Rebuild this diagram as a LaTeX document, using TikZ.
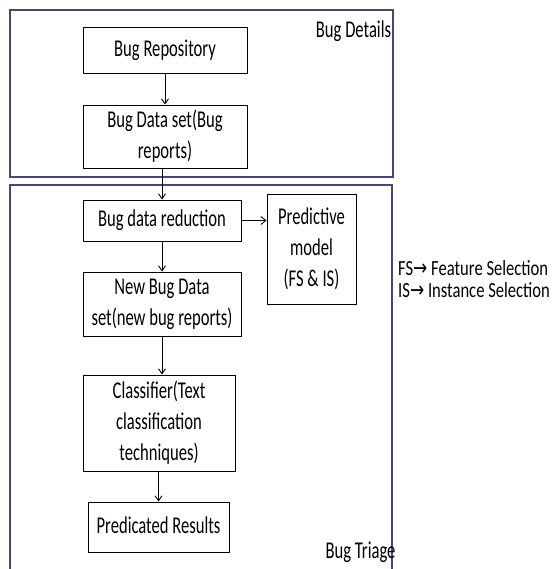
\documentclass[tikz,border=0pt]{standalone}
\usepackage{fontspec}
\usepackage{graphicx}
\setmainfont{Carlito}
\newfontfamily\arrfont{DejaVu Sans}
\usetikzlibrary{arrows.meta}
\definecolor{grpcol}{HTML}{4E4470}
\newcommand{\stx}[1]{\scalebox{1}[1.45]{\begin{tabular}{@{}c@{}}#1\end{tabular}}}
\newcommand{\lgx}[1]{\scalebox{1}[1.3]{#1}}
\tikzset{
  box/.style={draw=black, line width=0.9pt, inner sep=0pt, align=center,
    font=\fontsize{16.6}{21.4}\selectfont},
  grp/.style={draw=grpcol, line width=1.1pt},
  lbl/.style={inner sep=0pt, font=\fontsize{16.6}{21.4}\selectfont},
  flow/.style={line width=0.9pt, -{Straight Barb[length=5pt,width=7pt]}},
  thickflow/.style={line width=1.8pt, -{Straight Barb[length=5pt,width=8pt,line width=0.9pt]}}
}
\begin{document}
\begin{tikzpicture}[x=1pt,y=-1pt]
\useasboundingbox (0,0) rectangle (557,569);
% group boxes
\draw[grp] (10,10) rectangle (393,177);
\draw[grp] (10,580) -- (10,185) -- (392,185) -- (392,580);
% nodes
\node[box, minimum width=164pt, minimum height=46pt] (repo) at (165,50) {\stx{Bug Repository}};
\node[box, minimum width=164pt, minimum height=63pt] (dset) at (165,136.5) {\stx{Bug Data set(Bug\\reports)}};
\node[box, minimum width=158pt, minimum height=41pt] (red) at (162,220.5) {\stx{Bug data reduction}};
\node[box, minimum width=89pt, minimum height=110pt] (pred) at (311.5,249) {\stx{Predictive\\model\\(FS \& IS)}};
\node[box, minimum width=158pt, minimum height=64pt] (newd) at (162,304) {\stx{New Bug Data\\set(new bug reports)}};
\node[box, minimum width=152pt, minimum height=96pt] (clf) at (159,423) {\stx{Classifier(Text\\classification\\techniques)}};
\node[box, minimum width=141pt, minimum height=50pt] (res) at (158.5,527) {\stx{Predicated Results}};
% labels
\node[lbl] (bd) at (353.5,31) {\scalebox{1}[1.45]{Bug Details}};
\node[lbl] (bt) at (360.5,552) {\scalebox{1}[1.45]{Bug Triage}};
\node[lbl, anchor=west] (fs) at (398,268) {\lgx{FS{\arrfont\fontsize{17}{18}\selectfont→} Feature Selection}};
\node[lbl, anchor=west] (is) at (398,290) {\lgx{IS{\arrfont\fontsize{17}{18}\selectfont→} Instance Selection}};
% connectors
\draw[flow] (repo.south) -- (dset.north);
\draw[flow] (red.north |- dset.south) -- (red.north);
\draw[flow] (red.south) -- (newd.north);
\draw[flow] (newd.south) -- (newd.south |- clf.north);
\draw[flow] (res.north |- clf.south) -- (res.north);
\draw[thickflow] (red.east) -- (red.east -| pred.west);
\end{tikzpicture}
\end{document}
